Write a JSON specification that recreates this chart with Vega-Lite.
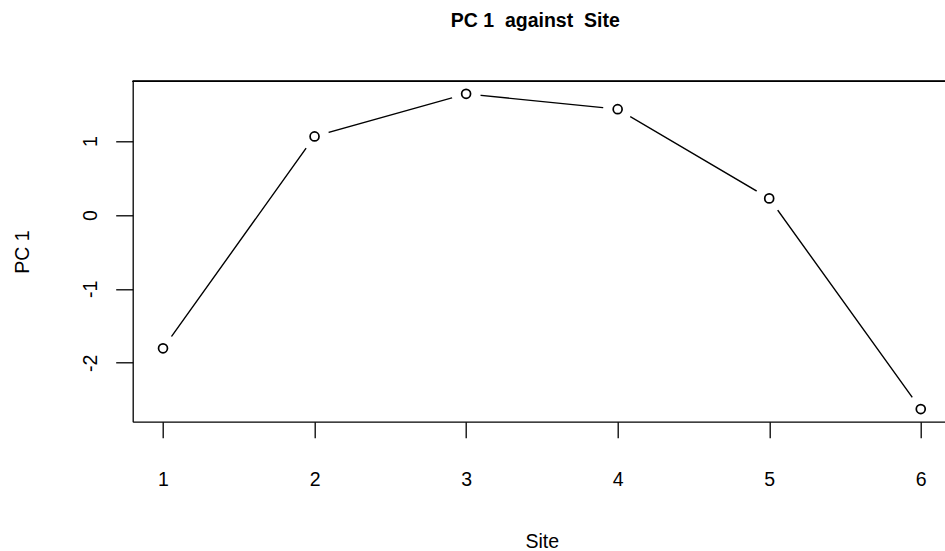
{
  "$schema": "https://vega.github.io/schema/vega-lite/v6.json",
  "width": 812.3,
  "height": 340.4,
  "autosize": {"type": "none"},
  "padding": {"left": 132.7, "top": 81.3, "right": 0, "bottom": 129.3},
  "background": "white",
  "config": {"view": {"stroke": null}, "font": "Liberation Sans"},
  "title": {
    "text": "PC 1\u00a0 against\u00a0 Site",
    "anchor": "start",
    "frame": "group",
    "dx": 318,
    "offset": 33,
    "baseline": "alphabetic",
    "fontSize": 19.5,
    "fontWeight": "bold",
    "font": "Liberation Sans",
    "color": "black"
  },
  "data": {
    "values": [
      {"Site": 1, "PC1": -1.805},
      {"Site": 2, "PC1": 1.064},
      {"Site": 3, "PC1": 1.640},
      {"Site": 4, "PC1": 1.433},
      {"Site": 5, "PC1": 0.225},
      {"Site": 6, "PC1": -2.627}
    ]
  },
  "encoding": {
    "x": {
      "field": "Site",
      "type": "quantitative",
      "scale": {"domain": [0.8, 6.16], "nice": false, "zero": false},
      "axis": {
        "values": [1, 2, 3, 4, 5, 6],
        "format": "d",
        "title": "Site",
        "grid": false,
        "domainColor": "black",
        "domainWidth": 1.3,
        "tickColor": "black",
        "tickWidth": 1.3,
        "tickSize": 16,
        "labelPadding": 48,
        "labelBaseline": "alphabetic",
        "labelFontSize": 19.5,
        "labelColor": "black",
        "labelFont": "Liberation Sans",
        "labelFlush": false,
        "labelOverlap": false,
        "titleFont": "Liberation Sans",
        "titleFontSize": 19.5,
        "titleFontWeight": "normal",
        "titleColor": "black",
        "titleX": 409,
        "titleY": 126,
        "titleBaseline": "alphabetic",
        "zindex": 1
      }
    },
    "y": {
      "field": "PC1",
      "type": "quantitative",
      "scale": {"domain": [-2.798, 1.81], "nice": false, "zero": false},
      "axis": {
        "values": [-2, -1, 0, 1],
        "labelExpr": "'' + datum.value",
        "title": "PC 1",
        "grid": false,
        "domainColor": "black",
        "domainWidth": 1.3,
        "tickColor": "black",
        "tickWidth": 1.3,
        "tickSize": 17,
        "labelAngle": -90,
        "labelAlign": "center",
        "labelBaseline": "alphabetic",
        "labelPadding": 19,
        "labelFontSize": 19.5,
        "labelColor": "black",
        "labelFont": "Liberation Sans",
        "labelFlush": false,
        "labelOverlap": false,
        "titleFont": "Liberation Sans",
        "titleFontSize": 19.5,
        "titleFontWeight": "normal",
        "titleColor": "black",
        "titleX": -104,
        "titleBaseline": "alphabetic",
        "zindex": 1
      }
    }
  },
  "layer": [
    {"mark": {"type": "line", "color": "black", "strokeWidth": 1.4}},
    {"mark": {"type": "point", "shape": "circle", "filled": true, "fill": "white", "opacity": 1, "strokeWidth": 0, "size": 850}},
    {"mark": {"type": "point", "shape": "circle", "filled": false, "stroke": "black", "strokeWidth": 1.7, "opacity": 1, "size": 80}},
    {"mark": {"type": "rule", "color": "black", "strokeWidth": 1.3}, "encoding": {"y": {"datum": 1.81}, "x": {"datum": 0.8}, "x2": {"datum": 6.16}}}
  ]
}
